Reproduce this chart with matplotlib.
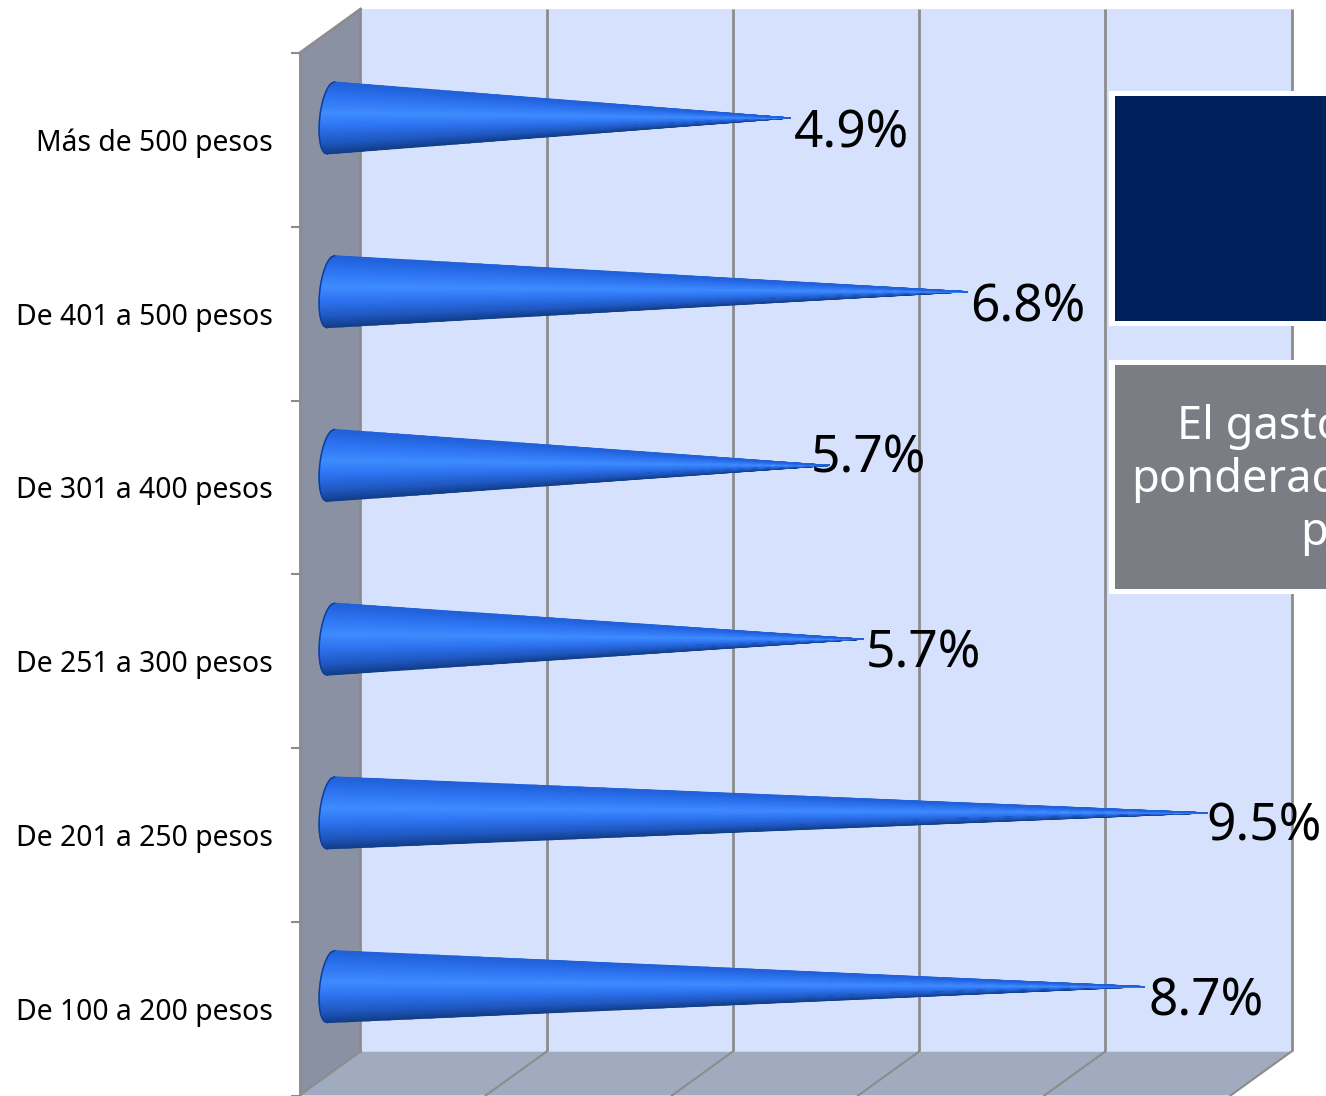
import numpy as np
import matplotlib
matplotlib.use('Agg')
import matplotlib.pyplot as plt
from matplotlib.colors import LinearSegmentedColormap
from matplotlib.patches import Polygon, Rectangle
from matplotlib.ticker import FixedLocator, FixedFormatter

# bottom to top, as on the y axis
categories = ['De 100 a 200 pesos', 'De 201 a 250 pesos', 'De 251 a 300 pesos',
              'De 301 a 400 pesos', 'De 401 a 500 pesos', 'Más de 500 pesos']
cone_lengths = [8.74, 9.42, 5.72, 5.36, 6.84, 4.94]
value_labels = ['8.7%', '9.5%', '5.7%', '5.7%', '6.8%', '4.9%']
grid_ticks = [2, 4, 6, 8, 10]

W, H = 1326, 1096
FONT = 'Noto Sans'
plt.rcParams['font.family'] = [FONT, 'DejaVu Sans']

fig = plt.figure(figsize=(W / 100, H / 100), dpi=100, facecolor='white')
ax = fig.add_axes([299.5 / W, 1 - 1095.5 / H, (1292 - 300) / W, (1095 - 9) / H])
ax.set_xlim(-0.655, 10)
ax.set_ylim(-0.5, 5.751)
ax.patch.set_visible(False)

# 3d box depth in data units
dx, dy = 0.655, 0.2533
y0, y1 = -0.5, 5.5
GRID = '#8c8c8c'

ax.add_patch(Polygon([(0, y0 + dy), (10, y0 + dy), (10, y1 + dy), (0, y1 + dy)],
                     fc='#d6e2fd', ec='none', zorder=0, clip_on=False))
ax.add_patch(Polygon([(-dx, y0), (0, y0 + dy), (0, y1 + dy), (-dx, y1)],
                     fc='#8a91a3', ec='none', zorder=1, clip_on=False))
ax.add_patch(Polygon([(-dx, y0), (0, y0 + dy), (10, y0 + dy), (10 - dx, y0)],
                     fc='#a0abbf', ec='none', zorder=1, clip_on=False))

for t in grid_ticks:
    ax.plot([t, t], [y0 + dy, y1 + dy], color=GRID, lw=2, zorder=2,
            solid_capstyle='butt', clip_on=False)
    ax.plot([t, t - dx], [y0 + dy, y0], color=GRID, lw=1.5, zorder=2, clip_on=False)
ax.plot([0, 0], [y0 + dy, y1 + dy], color=GRID, lw=2, zorder=2, clip_on=False)
ax.plot([-dx, 0], [y1, y1 + dy], color=GRID, lw=2, zorder=2, clip_on=False)
ax.plot([-dx, 0], [y0, y0 + dy], color=GRID, lw=1.5, zorder=2, clip_on=False)

cone_cmap = LinearSegmentedColormap.from_list('cone', [
    (0.0, '#2060d8'), (0.2, '#2e74f2'), (0.43, '#3f8cff'),
    (0.62, '#2e74f2'), (0.85, '#1f58c0'), (1.0, '#123e88')])

base_x = -0.32
half_h = 0.207
cap_w = 0.118
tilt = 0.04
v = np.linspace(-1, 1, 61)
u = np.linspace(0, 1, 40)
for i, length in enumerate(cone_lengths):
    yc = i + dy / 2
    left = base_x - cap_w * np.sqrt(1 - v ** 2) + tilt * v
    tip = base_x + length
    X = np.outer(1 - u, left) + np.outer(u, np.full_like(v, tip))
    Y = yc + half_h * np.outer(1 - u, v)
    C = np.tile((1 - v) / 2, (len(u), 1))
    ax.pcolormesh(X, Y, C, cmap=cone_cmap, vmin=0, vmax=1, shading='gouraud', zorder=3)
    ax.plot(left, yc + half_h * v, color='#0c3f9c', lw=1.1, zorder=4)

# label offsets in pixels from the cone tip, the chart places them by hand
label_off = [(4, -15), (-1, -14), (3, -15), (-19, 6), (3, -16), (3, -16)]
for i, length in enumerate(cone_lengths):
    ax.annotate(value_labels[i], xy=(base_x + length, i + dy / 2),
                xytext=label_off[i], textcoords='offset pixels',
                ha='left', va='center', fontsize=37, color='black', zorder=6)

ax.set_xticks([])
ax.yaxis.set_major_locator(FixedLocator(np.arange(y0, y1 + 1)))
ax.yaxis.set_major_formatter(FixedFormatter([]))
ax.yaxis.set_minor_locator(FixedLocator(range(len(categories))))
ax.yaxis.set_minor_formatter(FixedFormatter(categories))
ax.tick_params(axis='y', which='major', length=6.5, width=1.5, color=GRID)
ax.tick_params(axis='y', which='minor', length=0, pad=19, labelsize=20.4)
for s in ['top', 'right', 'bottom']:
    ax.spines[s].set_visible(False)
ax.spines['left'].set_bounds(y0, y1)
ax.spines['left'].set_color(GRID)
ax.spines['left'].set_linewidth(2)


def box(top, bottom, color):
    fig.add_artist(Rectangle((1109 / W, 1 - (bottom + 5) / H), 300 / W, (bottom - top + 10) / H,
                             transform=fig.transFigure, fc='white', ec='none', zorder=7))
    fig.add_artist(Rectangle((1115 / W, 1 - bottom / H), 300 / W, (bottom - top) / H,
                             transform=fig.transFigure, fc=color, ec='none', zorder=8))


box(96, 321, '#00205b')
box(365, 589, '#7a7d84')

for text, x, y in [('El gasto', 1177, 427), ('ponderado', 1131, 480), ('p', 1300, 533)]:
    fig.text(x / W, 1 - y / H, text, color='white', fontsize=32.5, ha='left', va='center', zorder=9)

fig.savefig('out.png', dpi=100)
